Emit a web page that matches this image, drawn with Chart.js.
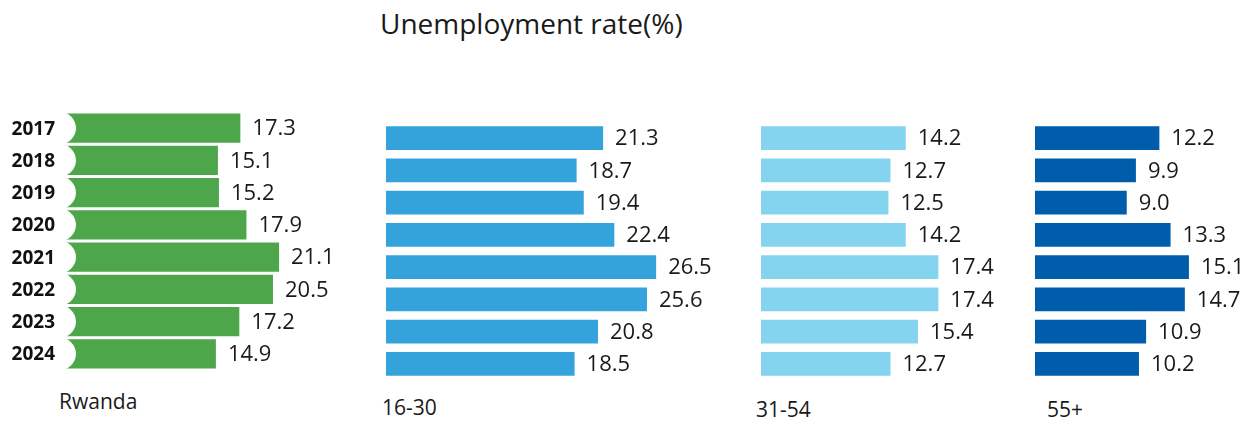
<!DOCTYPE html>
<html lang="en">
<head>
<meta charset="UTF-8">
<title>Unemployment rate(%)</title>
<script src="https://cdn.jsdelivr.net/npm/chart.js@4"></script>
<style>
    body { margin: 0; background: #fff; font-family: "Open Sans", sans-serif; color: #1a1a1a; }
    #page { position: relative; width: 1251px; height: 421px; overflow: hidden; }
    .panel { position: absolute; }
    .txt { position: absolute; font-size: 21px; white-space: nowrap; }
    #title { position: absolute; left: 380px; top: 4px; font-size: 28px; }
</style>
</head>
<body>
<div id="page">
    <div id="title">Unemployment rate(%)</div>

    <div class="panel" style="left:0; top:112px;"><canvas id="cRwanda" width="380" height="258"></canvas></div>
    <div class="panel" style="left:386px; top:122px;"><canvas id="c1630" width="376" height="258"></canvas></div>
    <div class="panel" style="left:761px; top:122px;"><canvas id="c3154" width="274" height="258"></canvas></div>
    <div class="panel" style="left:1035px; top:122px;"><canvas id="c55" width="216" height="258"></canvas></div>

    <div class="txt" style="left:59px; top:387px;">Rwanda</div>
    <div class="txt" style="left:382px; top:393px;">16-30</div>
    <div class="txt" style="left:756px; top:395px;">31-54</div>
    <div class="txt" style="left:1047px; top:395px;">55+</div>
</div>

<script>
    // data
    var years = ['2017', '2018', '2019', '2020', '2021', '2022', '2023', '2024'];
    var rwanda = [17.3, 15.1, 15.2, 17.9, 21.1, 20.5, 17.2, 14.9];
    var age16to30 = [21.3, 18.7, 19.4, 22.4, 26.5, 25.6, 20.8, 18.5];
    var age31to54 = [14.2, 12.7, 12.5, 14.2, 17.4, 17.4, 15.4, 12.7];
    var age55plus = [12.2, 9.9, 9.0, 13.3, 15.1, 14.7, 10.9, 10.2];

    // same pixels per percent in all four panels
    var PX_PER_UNIT = 316 / 31;

    // value text right of each bar
    var valueLabels = {
        id: 'valueLabels',
        afterDatasetsDraw: function(chart) {
            var ctx = chart.ctx;
            var values = chart.data.datasets[0].data;
            ctx.save();
            ctx.font = '22px "Open Sans"';
            ctx.fillStyle = '#1a1a1a';
            ctx.textBaseline = 'middle';
            ctx.textAlign = 'left';
            chart.getDatasetMeta(0).data.forEach(function(bar, i) {
                ctx.fillText(values[i].toFixed(1), bar.x + 12, bar.y + 1);
            });
            ctx.restore();
        }
    };

    // bold year labels left of the green bars
    var yearLabels = {
        id: 'yearLabels',
        afterDatasetsDraw: function(chart) {
            var ctx = chart.ctx;
            var labels = chart.data.labels;
            ctx.save();
            ctx.font = 'bold 19px "Open Sans"';
            ctx.fillStyle = '#111';
            ctx.textBaseline = 'middle';
            ctx.textAlign = 'right';
            chart.getDatasetMeta(0).data.forEach(function(bar, i) {
                ctx.fillText(labels[i], bar.base - 9, bar.y + 1);
            });
            ctx.restore();
        }
    };

    // white round notch cut into the left end of the green bars
    var notch = {
        id: 'notch',
        afterDatasetsDraw: function(chart) {
            var ctx = chart.ctx;
            var area = chart.chartArea;
            ctx.save();
            ctx.beginPath();
            ctx.rect(area.left, area.top, area.right - area.left, area.bottom - area.top);
            ctx.clip();
            ctx.fillStyle = '#ffffff';
            chart.getDatasetMeta(0).data.forEach(function(bar) {
                ctx.beginPath();
                ctx.ellipse(bar.base - 6, bar.y, 18, bar.height * 0.58, 0, 0, Math.PI * 2);
                ctx.fill();
            });
            ctx.restore();
        }
    };

    function makeChart(id, values, color, opts) {
        var canvas = document.getElementById(id);
        var padLeft = opts.padLeft || 0;
        var padRight = opts.padRight || 0;
        var areaW = canvas.width - padLeft - padRight;
        return new Chart(canvas, {
            type: 'bar',
            data: {
                labels: years,
                datasets: [{
                    data: values,
                    backgroundColor: color,
                    borderWidth: 0,
                    barPercentage: opts.barPct,
                    categoryPercentage: 1
                }]
            },
            options: {
                indexAxis: 'y',
                responsive: false,
                animation: false,
                layout: { padding: { left: padLeft, right: padRight, top: 0, bottom: 0 } },
                plugins: { legend: { display: false }, tooltip: { enabled: false } },
                scales: {
                    x: { display: false, min: 0, max: areaW / PX_PER_UNIT },
                    y: { display: false }
                }
            },
            plugins: opts.plugins
        });
    }

    makeChart('cRwanda', rwanda, '#4ea64a', { padLeft: 64, barPct: 0.9, plugins: [notch, yearLabels, valueLabels] });
    makeChart('c1630', age16to30, '#34a3dc', { padRight: 60, barPct: 0.74, plugins: [valueLabels] });
    makeChart('c3154', age31to54, '#84d4ef', { padRight: 60, barPct: 0.74, plugins: [valueLabels] });
    makeChart('c55', age55plus, '#005dab', { barPct: 0.74, plugins: [valueLabels] });
</script>
</body>
</html>
